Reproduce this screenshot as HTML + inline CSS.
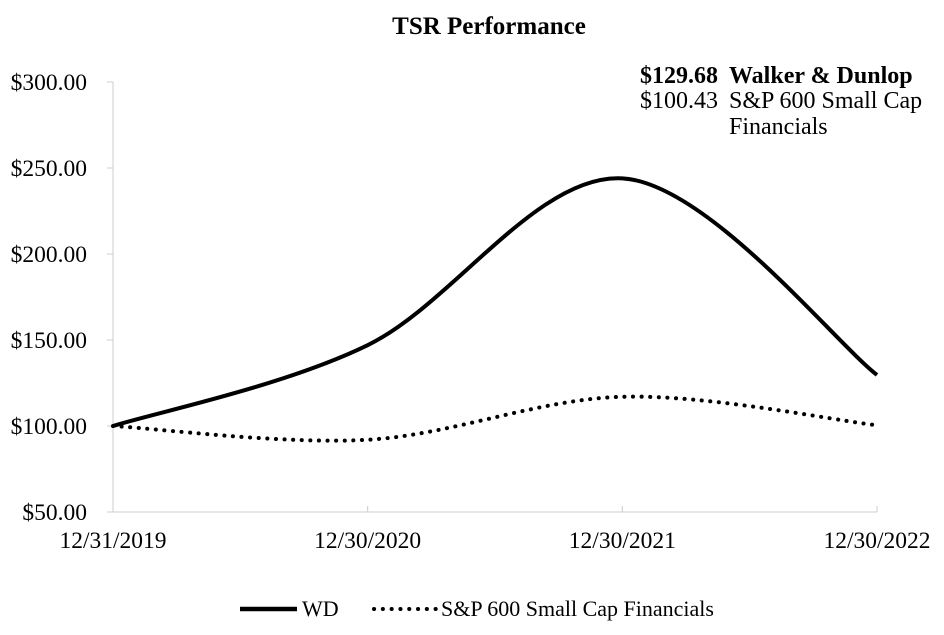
<!DOCTYPE html>
<html><head><meta charset="utf-8"><style>
body{margin:0;background:#fff;}
svg{display:block;font-family:"Liberation Serif",serif;}
</style></head><body>
<svg id="chart" width="944" height="635" viewBox="0 0 944 635">
<text x="489" y="34" font-size="25" font-weight="bold" text-anchor="middle">TSR Performance</text>
<g font-size="24">
<text x="718" y="83" font-weight="bold" text-anchor="end">$129.68</text>
<text x="729" y="83" font-weight="bold">Walker &amp; Dunlop</text>
<text x="718" y="108" text-anchor="end">$100.43</text>
<text x="729" y="108">S&amp;P 600 Small Cap</text>
<text x="729" y="134">Financials</text>
</g>
<g id="axes"></g>
<g id="series"></g>
<g font-size="22">
<line x1="240" y1="609" x2="297" y2="609" stroke="#000" stroke-width="4.5"/>
<text x="302" y="616">WD</text>
<line x1="374" y1="609" x2="436" y2="609" stroke="#000" stroke-width="4" stroke-dasharray="0.1 8.7" stroke-linecap="round"/>
<text x="441" y="616">S&amp;P 600 Small Cap Financials</text>
</g>
</svg>
<script>
const categories=["12/31/2019","12/30/2020","12/30/2021","12/30/2022"];
const wdValues=[100,147,244,129.68];
const spValues=[100,92,117,100.43];
const yTicks=[50,100,150,200,250,300];
const yTickLabels=["$50.00","$100.00","$150.00","$200.00","$250.00","$300.00"];
const NS="http://www.w3.org/2000/svg";
const x0=113,x1=877,yBase=512,yTop=82;
const xs=i=>x0+i*(x1-x0)/(categories.length-1);
const ys=v=>yBase-(v-50)*(yBase-yTop)/250;
const axes=document.getElementById('axes'),series=document.getElementById('series');
function mk(t,a,p){const e=document.createElementNS(NS,t);for(const k in a)e.setAttribute(k,a[k]);p.appendChild(e);return e;}
let yl=mk('line',{x1:x0,y1:yTop,x2:x0,y2:yBase,stroke:'#ccc','stroke-width':1},axes);


let xl=mk('line',{x1:x0-6,y1:yBase,x2:x1,y2:yBase,stroke:'#ccc','stroke-width':1},axes);


yTicks.forEach((v,i)=>{
 const tk=mk('line',{x1:x0-6,y1:ys(v),x2:x0,y2:ys(v),stroke:'#ccc'},axes);
 
 
 const t=mk('text',{x:87,y:ys(v)+8,'font-size':23.5,'text-anchor':'end'},axes);t.textContent=yTickLabels[i];
 
 
});
categories.forEach((c,i)=>{
 const tk=mk('line',{x1:xs(i),y1:yBase-6,x2:xs(i),y2:yBase,stroke:'#ccc'},axes);
 
 
 const t=mk('text',{x:xs(i),y:548,'font-size':23.5,'text-anchor':'middle'},axes);t.textContent=c;
 
 
});
function smooth(vals){
 const p=vals.map((v,i)=>[xs(i),ys(v)]);let d=`M${p[0][0]},${p[0][1]}`;
 for(let i=0;i<p.length-1;i++){
  const a=p[Math.max(0,i-1)],b=p[i],c=p[i+1],e=p[Math.min(p.length-1,i+2)];
  const c1=[b[0]+(c[0]-a[0])/6,b[1]+(c[1]-a[1])/6],c2=[c[0]-(e[0]-b[0])/6,c[1]-(e[1]-b[1])/6];
  d+=` C${c1[0]},${c1[1]} ${c2[0]},${c2[1]} ${c[0]},${c[1]}`;
 }
 return d;
}
const sp=mk('path',{d:smooth(spValues),fill:'none',stroke:'#000','stroke-width':4,'stroke-dasharray':'0.1 8.5','stroke-linecap':'round'},series);


const wd=mk('path',{d:smooth(wdValues),fill:'none',stroke:'#000','stroke-width':4},series);


</script>
</body></html>
